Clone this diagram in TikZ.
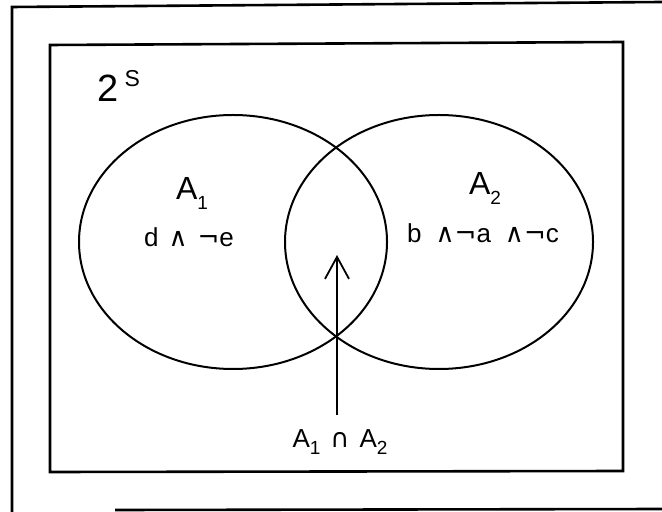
\documentclass[tikz,border=0pt]{standalone}
\usepackage{fontspec}
\setmainfont{Liberation Sans}
\newfontfamily\symf{DejaVu Sans}
\usetikzlibrary{arrows.meta}
\newcommand\lsub[1]{\raisebox{-0.55ex}{\fontsize{9.5}{10}\selectfont #1}}
\begin{document}
\begin{tikzpicture}[x=0.5pt,y=-0.5pt,
  frame/.style={line width=1.3pt},
  setline/.style={line width=1pt},
  lbl/.style={inner sep=0pt,font=\fontsize{16}{18}\selectfont},
  frm/.style={inner sep=0pt,font=\fontsize{13}{15}\selectfont},
  arr/.style={line width=0.9pt,-{Straight Barb[length=11pt,width=12pt,line width=0.9pt]}}]
\useasboundingbox (0,0) rectangle (662,512);
% outer partial frame
\draw[frame] (12,512) -- (12,7) -- (662,2);
\draw[frame] (115,510) -- (662,509);
% inner box (2^S)
\draw[frame] (50,472) -- (50,45) -- (623,42) -- (623,471) -- cycle;
\node[anchor=base west,inner sep=0pt,font=\fontsize{19}{21}\selectfont] (pow) at (97,102)
  {2\hspace{3pt}\raisebox{7.5pt}{\fontsize{11.5}{12}\selectfont S}};
% ellipses
\draw[setline] (233,242) ellipse [x radius=154, y radius=127];
\draw[setline] (439,242) ellipse [x radius=154, y radius=127];
% labels
\node[lbl,anchor=base] (a1) at (192,200) {A\lsub{1}};
\node[frm,anchor=base] (f1) at (189,247) {d\hspace{5pt}{\symf ∧}\hspace{5pt}{\symf ¬}e};
\node[lbl,anchor=base] (a2) at (485,195) {A\lsub{2}};
\node[frm,anchor=base] (f2) at (483,243) {b\hspace{7pt}{\symf ∧¬}a\hspace{7pt}{\symf ∧¬}c};
\node[frm,anchor=base] (inter) at (340,447) {A\lsub{1}\hspace{5pt}{\symf ∩}\hspace{5pt}A\lsub{2}};
\coordinate (tip) at (337,255);
\coordinate (start) at (337,415);
\draw[arr] (start) -- (tip);
\end{tikzpicture}
\end{document}
